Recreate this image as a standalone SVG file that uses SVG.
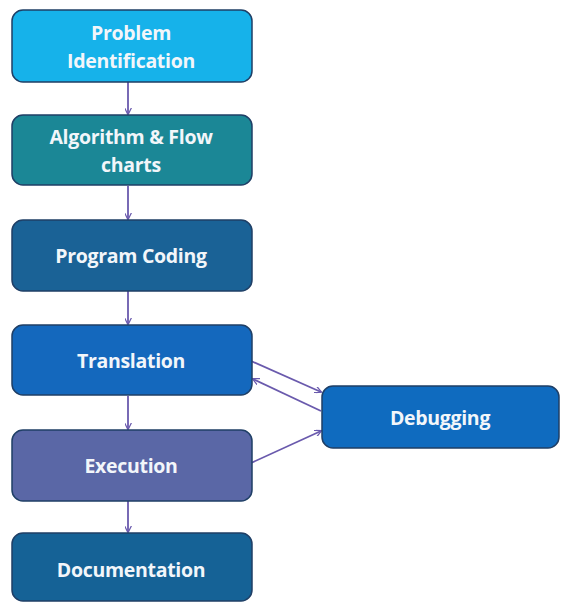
<svg xmlns="http://www.w3.org/2000/svg" width="561" height="603" viewBox="0 0 561 603">
<style>
.box{stroke:#1f3f66;stroke-width:1.5;}
.t{font-family:"Open Sans","Liberation Sans",sans-serif;font-weight:bold;font-size:19.5px;fill:#f2f6fa;text-anchor:middle;letter-spacing:-0.3px;}
.c{stroke:#6a5aad;stroke-width:1.8;fill:none;}
</style>
<defs>
<marker id="ah" viewBox="0 0 10 10" refX="9" refY="5" markerWidth="7" markerHeight="7" orient="auto" markerUnits="userSpaceOnUse">
<path d="M0,0 L10,5 L0,10" fill="none" stroke="#6a5aad" stroke-width="1.8"/>
</marker>
</defs>
<rect width="561" height="603" fill="#ffffff"/>
<g id="connectors">
<line class="c" x1="128" y1="82" x2="128" y2="114" marker-end="url(#ah)"/>
<line class="c" x1="128" y1="186" x2="128" y2="219" marker-end="url(#ah)"/>
<line class="c" x1="128" y1="291" x2="128" y2="324" marker-end="url(#ah)"/>
<line class="c" x1="128" y1="396" x2="128" y2="429" marker-end="url(#ah)"/>
<line class="c" x1="128" y1="501" x2="128" y2="532" marker-end="url(#ah)"/>
<line class="c" x1="251" y1="361" x2="321" y2="392" marker-end="url(#ah)"/>
<line class="c" x1="321" y1="411" x2="253" y2="379" marker-end="url(#ah)"/>
<line class="c" x1="251" y1="463" x2="321" y2="431" marker-end="url(#ah)"/>
</g>
<g id="problem">
<rect class="box" x="12" y="10" width="240" height="72" rx="11" fill="#16b2ea"/>
<text class="t" x="131" y="40">Problem</text>
<text class="t" x="131" y="68">Identification</text>
</g>
<g id="algorithm">
<rect class="box" x="12" y="115" width="240" height="70" rx="11" fill="#1b8796"/>
<text class="t" x="131" y="144">Algorithm &amp; Flow</text>
<text class="t" x="131" y="172">charts</text>
</g>
<g id="coding">
<rect class="box" x="12" y="220" width="240" height="71" rx="11" fill="#1a6296"/>
<text class="t" x="131" y="263">Program Coding</text>
</g>
<g id="translation">
<rect class="box" x="12" y="325" width="240" height="70" rx="11" fill="#1468bd"/>
<text class="t" x="131" y="368">Translation</text>
</g>
<g id="execution">
<rect class="box" x="12" y="430" width="240" height="71" rx="11" fill="#5a67a6"/>
<text class="t" x="131" y="473">Execution</text>
</g>
<g id="documentation">
<rect class="box" x="12" y="533" width="240" height="68" rx="11" fill="#156296"/>
<text class="t" x="131" y="577">Documentation</text>
</g>
<g id="debugging">
<rect class="box" x="322" y="386" width="237" height="62" rx="11" fill="#0f6bbf"/>
<text class="t" x="440" y="425">Debugging</text>
</g>
</svg>
